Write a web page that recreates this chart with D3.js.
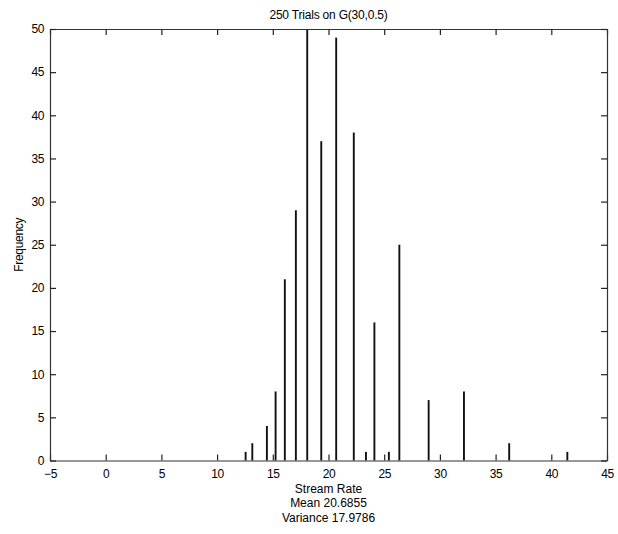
<!DOCTYPE html>
<html>
<head>
<meta charset="utf-8">
<script src="https://cdn.jsdelivr.net/npm/d3@7"></script>
<style>
  html, body { margin: 0; padding: 0; background: #fff; }
  svg { display: block; }
  text { font-family: "Liberation Sans", Arial, sans-serif; fill: #000; }
</style>
</head>
<body>
<svg id="chart" width="618" height="534"></svg>
<script>
// Histogram of simulated stream rates
const rates = [12.56, 13.16, 14.47, 15.25, 16.08, 17.07, 18.09, 19.35, 20.69,
               22.27, 23.36, 24.12, 25.42, 26.36, 28.99, 32.16, 36.22, 41.44];
const counts = [1, 2, 4, 8, 21, 29, 50, 37, 49,
                38, 1, 16, 1, 25, 7, 8, 2, 1];
const xTicks = [-5, 0, 5, 10, 15, 20, 25, 30, 35, 40, 45];
const yTicks = [0, 5, 10, 15, 20, 25, 30, 35, 40, 45, 50];
const titleText = "250 Trials on G(30,0.5)";
const xLabelLines = ["Stream Rate", "Mean 20.6855", "Variance 17.9786"];
const yLabelText = "Frequency";

const svg = d3.select("#chart");
const plotL = 50, plotR = 607, plotT = 29, plotB = 460.5;

const x = d3.scaleLinear().domain([-5, 45]).range([plotL, plotR]);
const y = d3.scaleLinear().domain([0, 50]).range([plotB, plotT]);

const barW = 0.17; // bar width in data units

// bars
svg.append("g")
  .selectAll("rect")
  .data(rates.map((r, i) => ({ r, c: counts[i] })))
  .join("rect")
  .attr("x", d => x(d.r - barW / 2))
  .attr("width", d => x(d.r + barW / 2) - x(d.r - barW / 2))
  .attr("y", d => y(d.c))
  .attr("height", d => y(0) - y(d.c))
  .attr("fill", "#111");

const tickLen = 6;
const fmt = d => (d < 0 ? "\u2212" + Math.abs(d) : String(d));

// bottom axis (ticks point inward)
const gx = svg.append("g").attr("transform", `translate(0,${plotB})`)
  .call(d3.axisBottom(x).tickValues(xTicks).tickSizeInner(-tickLen).tickSizeOuter(0).tickPadding(9).tickFormat(fmt));
// top axis
const gxt = svg.append("g").attr("transform", `translate(0,${plotT})`)
  .call(d3.axisTop(x).tickValues(xTicks).tickSizeInner(-tickLen).tickSizeOuter(0).tickFormat(""));
// left axis
const gy = svg.append("g").attr("transform", `translate(${plotL},0)`)
  .call(d3.axisLeft(y).tickValues(yTicks).tickSizeInner(-tickLen).tickSizeOuter(0).tickPadding(6).tickFormat(fmt));
// right axis
const gyr = svg.append("g").attr("transform", `translate(${plotR},0)`)
  .call(d3.axisRight(y).tickValues(yTicks).tickSizeInner(-tickLen).tickSizeOuter(0).tickFormat(""));

[gx, gxt, gy, gyr].forEach(g => {
  g.select(".domain").attr("stroke", "#333").attr("stroke-width", 1.2);
  g.selectAll(".tick line").attr("stroke", "#222").attr("stroke-width", 1.2);
  g.selectAll(".tick text").attr("font-size", 12).attr("fill", "#000")
    .attr("font-family", "'Liberation Sans', Arial, sans-serif")
    .style("letter-spacing", "-0.4px");
});

// title
svg.append("text")
  .attr("x", (plotL + plotR) / 2).attr("y", 19)
  .attr("text-anchor", "middle").attr("font-size", 12)
  .style("letter-spacing", "-0.2px")
  .text(titleText);

// x label with summary statistics
svg.append("g").selectAll("text")
  .data(xLabelLines)
  .join("text")
  .attr("x", (plotL + plotR) / 2)
  .attr("y", (d, i) => 492.5 + i * 14.5)
  .attr("text-anchor", "middle").attr("font-size", 12)
  .text(d => d);

// y label
svg.append("text")
  .attr("transform", `translate(23,${(plotT + plotB) / 2}) rotate(-90)`)
  .attr("text-anchor", "middle").attr("font-size", 12)
  .style("letter-spacing", "-0.3px")
  .text(yLabelText);
</script>
</body>
</html>
